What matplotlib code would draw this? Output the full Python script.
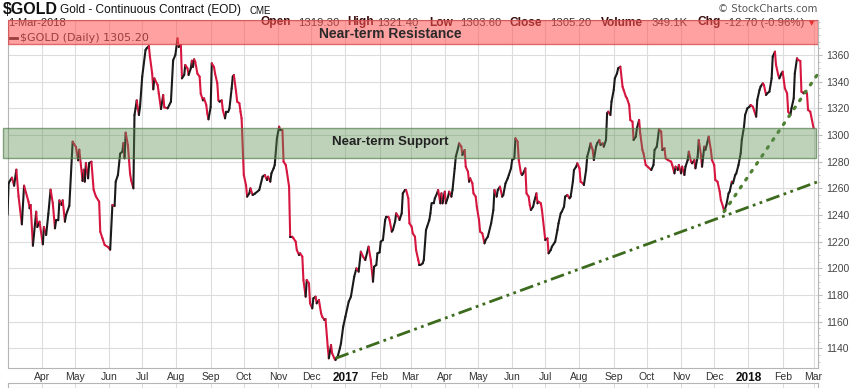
import numpy as np
import pandas as pd
import matplotlib
matplotlib.use("Agg")
import matplotlib.pyplot as plt
from matplotlib.collections import LineCollection
from matplotlib.patches import Rectangle
import matplotlib.transforms as mtransforms

plt.rcParams['font.family'] = ['Liberation Sans', 'DejaVu Sans']

# daily closes (vertices of the price line)
days_2016 = ['03-01', '03-02', '03-05', '03-07', '03-09', '03-11', '03-14', '03-16', '03-20', '03-21',
             '03-22', '03-24', '03-27', '03-28', '03-30', '04-02', '04-03', '04-05', '04-07', '04-09',
             '04-11', '04-13', '04-14', '04-16', '04-17', '04-19', '04-20', '04-22', '04-23', '04-26',
             '04-29', '05-02', '05-04', '05-05', '05-08', '05-09', '05-10', '05-11', '05-13', '05-14',
             '05-16', '05-18', '05-20', '05-23', '05-24', '05-26', '05-28', '05-31', '06-02', '06-04',
             '06-06', '06-07', '06-09', '06-11', '06-13', '06-14', '06-15', '06-16', '06-18', '06-20',
             '06-21', '06-23', '06-24', '06-25', '06-26', '06-28', '06-29', '07-01', '07-04', '07-05',
             '07-07', '07-08', '07-10', '07-11', '07-12', '07-15', '07-16', '07-18', '07-20', '07-21',
             '07-24', '07-27', '07-29', '07-31', '08-02', '08-03', '08-05', '08-06', '08-08', '08-09',
             '08-11', '08-12', '08-14', '08-15', '08-16', '08-17', '08-18', '08-20', '08-22', '08-23',
             '08-25', '08-26', '08-28', '08-29', '08-30', '09-01', '09-02', '09-04', '09-05', '09-07',
             '09-08', '09-09', '09-11', '09-12', '09-14', '09-15', '09-17', '09-18', '09-20', '09-21',
             '09-22', '09-24', '09-25', '09-27', '09-28', '09-29', '10-01', '10-03', '10-04', '10-06',
             '10-07', '10-09', '10-11', '10-15', '10-18', '10-20', '10-22', '10-23', '10-25', '10-26',
             '10-28', '10-29', '10-31', '11-02', '11-03', '11-05', '11-06', '11-08', '11-09', '11-11',
             '11-12', '11-14', '11-15', '11-17', '11-18', '11-20', '11-21', '11-23', '11-24', '11-26',
             '11-27', '11-29', '11-30', '12-02', '12-03', '12-05', '12-06', '12-08', '12-10', '12-11',
             '12-13', '12-14', '12-16', '12-17', '12-19', '12-20', '12-22', '12-23', '12-25', '12-27',
             '12-28', '12-30']
close_2016 = [1240, 1264, 1268, 1262, 1274, 1254, 1233, 1262, 1250, 1245,
              1247.5, 1217, 1242.5, 1231, 1235, 1218, 1231, 1225, 1241, 1259,
              1249, 1230, 1236, 1236, 1251, 1247.5, 1251, 1235, 1240, 1247,
              1295, 1291, 1281, 1289, 1265.5, 1274, 1265, 1279, 1267.5, 1279,
              1280, 1259, 1254, 1250, 1227.5, 1222.5, 1217.5, 1216, 1214, 1247.5,
              1246.75, 1265, 1270, 1286, 1287.5, 1294, 1282.5, 1301.75, 1292.5, 1271,
              1266, 1260, 1315, 1320, 1326, 1315, 1321, 1343.75, 1363.75, 1365,
              1366.75, 1358.75, 1346.25, 1334.25, 1342.5, 1337.5, 1331.25, 1319.5, 1330, 1320.75,
              1320, 1325, 1356, 1360, 1372.5, 1366, 1367.5, 1342.5, 1345, 1352.5,
              1350, 1345, 1350, 1355.75, 1351, 1356.75, 1355, 1346, 1343.75, 1331,
              1326, 1327.5, 1322.5, 1316, 1311.75, 1321, 1353.75, 1351, 1346, 1338.75,
              1326, 1325, 1326, 1318.75, 1312.5, 1317.5, 1317.5, 1320, 1335, 1343.75,
              1345, 1332.5, 1325, 1323.75, 1317.5, 1312.5, 1270, 1262.5, 1253.75, 1256.25,
              1260, 1255, 1256, 1258.75, 1268.75, 1270, 1266.25, 1268.75, 1265, 1271.25,
              1275, 1277.5, 1297.5, 1306.25, 1303.75, 1303.75, 1280, 1277.5, 1272.5, 1261.25,
              1223.75, 1223.75, 1222.5, 1220, 1213.75, 1210, 1211.25, 1208.75, 1191.25, 1178.75,
              1191.25, 1188.75, 1173.75, 1170, 1177.5, 1178.75, 1173.75, 1176.25, 1166.25, 1163.75,
              1161.25, 1162, 1141.25, 1132.5, 1142.5, 1136.25, 1132.5, 1131.25, 1133.75, 1140,
              1143.75, 1156.25]

days_2017 = ['01-01', '01-04', '01-06', '01-09', '01-11', '01-13', '01-15', '01-17', '01-19', '01-22',
             '01-24', '01-26', '01-27', '01-29', '01-30', '02-01', '02-02', '02-04', '02-06', '02-07',
             '02-09', '02-10', '02-12', '02-13', '02-15', '02-16', '02-18', '02-19', '02-21', '02-22',
             '02-24', '02-25', '02-27', '02-28', '03-02', '03-03', '03-05', '03-06', '03-08', '03-09',
             '03-10', '03-12', '03-13', '03-15', '03-16', '03-18', '03-19', '03-20', '03-22', '03-23',
             '03-25', '03-26', '03-28', '03-29', '03-30', '04-01', '04-02', '04-04', '04-05', '04-07',
             '04-08', '04-10', '04-11', '04-13', '04-14', '04-16', '04-17', '04-19', '04-20', '04-22',
             '04-23', '04-24', '04-26', '04-27', '04-29', '04-30', '05-02', '05-03', '05-05', '05-07',
             '05-08', '05-10', '05-13', '05-15', '05-16', '05-18', '05-19', '05-21', '05-23', '05-24',
             '05-26', '05-28', '05-29', '05-31', '06-01', '06-03', '06-04', '06-06', '06-07', '06-09',
             '06-10', '06-11', '06-13', '06-14', '06-16', '06-17', '06-18', '06-20', '06-21', '06-23',
             '06-24', '06-25', '06-27', '06-28', '06-29', '07-01', '07-03', '07-04', '07-06', '07-07',
             '07-09', '07-10', '07-12', '07-13', '07-15', '07-16', '07-18', '07-19', '07-21', '07-23',
             '07-24', '07-26', '07-27', '07-29', '07-30', '08-01', '08-02', '08-04', '08-05', '08-07',
             '08-08', '08-10', '08-11', '08-13', '08-14', '08-16', '08-17', '08-19', '08-20', '08-22',
             '08-23', '08-25', '08-26', '08-27', '08-29', '08-30', '09-01', '09-02', '09-04', '09-05',
             '09-07', '09-09', '09-10', '09-12', '09-13', '09-15', '09-16', '09-18', '09-19', '09-21',
             '09-22', '09-24', '09-25', '09-27', '09-28', '09-30', '10-02', '10-05', '10-07', '10-08',
             '10-10', '10-11', '10-12', '10-14', '10-15', '10-17', '10-18', '10-20', '10-23', '10-24',
             '10-26', '10-27', '10-29', '10-30', '11-01', '11-02', '11-04', '11-05', '11-07', '11-08',
             '11-10', '11-11', '11-13', '11-14', '11-16', '11-17', '11-19', '11-20', '11-22', '11-23',
             '11-25', '11-26', '11-28', '11-29', '12-01', '12-02', '12-04', '12-06', '12-07', '12-09',
             '12-10', '12-12', '12-14', '12-15', '12-17', '12-18', '12-20', '12-21', '12-23', '12-25',
             '12-26', '12-28', '12-29', '12-31']
close_2017 = [1163.75, 1175, 1178.75, 1193.75, 1200, 1197.5, 1212.5, 1208.75, 1206.25, 1216.25,
              1206.25, 1190, 1201.25, 1202.5, 1211.25, 1212, 1220, 1221.25, 1236.25, 1238.75,
              1238.75, 1236.25, 1227.5, 1228.75, 1235, 1241.25, 1238.75, 1236.25, 1241.25, 1256.25,
              1258.75, 1258.75, 1252.5, 1233.75, 1231.25, 1226.25, 1223.75, 1213.75, 1206.25, 1202.5,
              1202.5, 1203.75, 1206.25, 1228.75, 1231.25, 1236.25, 1241.25, 1248.75, 1248.75, 1252.5,
              1256.25, 1258.75, 1248.75, 1256.25, 1248.75, 1257.5, 1248.75, 1253.75, 1257.5, 1253.75,
              1258.75, 1275, 1283.75, 1290, 1293.75, 1291.25, 1285, 1288.75, 1276.25, 1272.5,
              1265, 1267.5, 1263.75, 1256.25, 1253.75, 1246.25, 1236.25, 1227.5, 1226.25, 1218.75,
              1221.25, 1223.75, 1233.75, 1243.75, 1258.75, 1253.75, 1258.75, 1261.25, 1253.75, 1255,
              1263.75, 1267.5, 1270, 1275, 1281.25, 1282.5, 1297.5, 1295, 1281.25, 1271.25,
              1270, 1271.25, 1275, 1256.25, 1253.75, 1247.5, 1243.75, 1246.25, 1250, 1256.25,
              1248.75, 1250, 1248.75, 1243.75, 1236.25, 1221.25, 1222.5, 1211.25, 1213.75, 1216.25,
              1218.75, 1220, 1228.75, 1233.75, 1241.25, 1242.5, 1246.25, 1253.75, 1255, 1252.5,
              1253.75, 1265, 1273.75, 1276.25, 1278.75, 1275, 1265, 1263.75, 1262.5, 1273.75,
              1283.75, 1290, 1293.75, 1288.75, 1281.25, 1291.25, 1293.75, 1296.25, 1292.5, 1293.75,
              1291.25, 1296.25, 1316.25, 1317.5, 1315, 1325, 1333.75, 1342.5, 1346.25, 1350,
              1351.25, 1336.25, 1333.75, 1328.75, 1327.5, 1322.5, 1311.25, 1310, 1296.25, 1298.75,
              1305, 1311.25, 1301.25, 1288.75, 1286.25, 1277.5, 1276, 1273.75, 1277.5, 1288.75,
              1291.25, 1297.5, 1304.25, 1302.5, 1288.75, 1290, 1282.5, 1281.25, 1280, 1277.5,
              1271.25, 1276.25, 1273.75, 1277.5, 1271.25, 1276.25, 1270, 1276.25, 1281.25, 1287.5,
              1280, 1278.75, 1281.25, 1275, 1283.75, 1296.25, 1285, 1276.25, 1291.25, 1288.75,
              1295, 1298.75, 1288.75, 1281.25, 1277.5, 1266.25, 1265, 1257.5, 1251.25, 1246.25,
              1242.5, 1247.5, 1256.25, 1257.5, 1265, 1263.75, 1270, 1271.25, 1277.5, 1286.25,
              1296.25, 1306.25, 1315, 1320]

days_2018 = ['01-02', '01-03', '01-05', '01-06', '01-08', '01-09', '01-11', '01-12', '01-14', '01-15',
             '01-17', '01-18', '01-20', '01-22', '01-23', '01-25', '01-26', '01-28', '01-29', '01-31',
             '02-01', '02-03', '02-05', '02-06', '02-08', '02-09', '02-11', '02-12', '02-14', '02-15',
             '02-17', '02-18', '02-20', '02-21', '02-23', '02-24', '02-26', '03-01']
close_2018 = [1321.25, 1322.5, 1321.25, 1318.75, 1313.75, 1326.25, 1333.75, 1336.25, 1338.75, 1337.5,
              1330, 1331.25, 1332.5, 1342.5, 1358.75, 1362.5, 1352.5, 1345, 1342.5, 1346.25,
              1347.5, 1335, 1331.25, 1317.5, 1315, 1320, 1327.5, 1346.25, 1357.5, 1356.25,
              1355.5, 1332.5, 1331.25, 1332.5, 1331.25, 1318.75, 1317.5, 1305.2]

# drawn annotations
support_band = (1283, 1305)
resistance_band = (1368, 1386.25)
long_trend = (['2016-12-23', '2018-03-05'], [1132.5, 1265])
short_trend = (['2017-12-10', '2018-03-05'], [1242.5, 1346])

month_ticks = pd.date_range('2016-04-01', '2018-03-01', freq='MS')
month_labels = [d.strftime('%Y') if d.month == 1 else d.strftime('%b') for d in month_ticks]
price_ticks = list(range(1140, 1361, 20))

dates = pd.to_datetime(['2016-' + d for d in days_2016] +
                       ['2017-' + d for d in days_2017] +
                       ['2018-' + d for d in days_2018])
close = np.array(close_2016 + close_2017 + close_2018)

W, H = 850, 388
def fig_xy(x, y):
    return x / W, 1 - y / H

fig = plt.figure(figsize=(8.5, 3.88), dpi=100)
left, right, top, bottom = 7.5, 818, 20, 368
ax = fig.add_axes([left / W, 1 - bottom / H, (right - left) / W, (bottom - top) / H])

x0, x1 = pd.Timestamp('2016-03-01'), pd.Timestamp('2018-03-05')
ax.set_xlim(x0, x1)
ax.set_ylim(1125.25, 1386.25)

# price line: black on up days, red on down days
xn = np.asarray(ax.convert_xunits(dates), dtype=float)
pts = np.column_stack([xn, close])
segs = np.stack([pts[:-1], pts[1:]], axis=1)
cols = np.where(np.diff(close) < 0, '#d6163f', '#1a1a1a')
lc = LineCollection(segs, colors=cols, linewidths=1.5, capstyle='round',
                    joinstyle='round', zorder=3)
ax.add_collection(lc)

# trend lines
ax.plot(pd.to_datetime(long_trend[0]), long_trend[1], color='#3d6b1e', lw=2,
        linestyle=(0, (5, 1.6, 1, 1.6, 1, 1.6)), zorder=4)
ax.plot(pd.to_datetime(short_trend[0]), short_trend[1], color='#4e7f32', lw=2.3,
        linestyle=(0, (0.6, 2.4)), dash_capstyle='round', zorder=4)

# support band (reaches a bit left of the frame)
blend = mtransforms.blended_transform_factory(ax.transAxes, ax.transData)
ax.add_patch(Rectangle((-0.006, support_band[0]), 1.004, support_band[1] - support_band[0],
                       transform=blend, clip_on=False, facecolor=(0.37, 0.56, 0.33, 0.4),
                       edgecolor=(0.33, 0.5, 0.3, 0.7), lw=1, zorder=5))
ax.text(0.472, 1294.5, 'Near-term Support', transform=blend, ha='center', va='center',
        fontsize=9.5, fontweight='bold', color='#222222', zorder=6)

# header info drawn inside the chart (under the red band)
ax.text(*fig_xy(8, 23), '1-Mar-2018', transform=fig.transFigure, fontsize=8,
        va='center', color='#222222', zorder=4)
header = [(260.7, 'Open', True), (297.7, '1319.30', False), (347.3, 'High', True),
          (377.3, '1321.40', False), (429, 'Low', True), (460, '1303.60', False),
          (510, 'Close', True), (550, '1305.20', False), (600.7, 'Volume', True),
          (651.7, '349.1K', False), (697.7, 'Chg', True), (725, '-12.70 (-0.96%)', False)]
for hx, txt, bold in header:
    ax.text(*fig_xy(hx, 22.5), txt, transform=fig.transFigure, va='center',
            fontsize=8.6 if bold else 8.2, fontweight='bold' if bold else 'normal',
            color='#3a0a0a' if bold else '#333333', zorder=4)
ax.text(*fig_xy(812, 23), '▼', transform=fig.transFigure, va='center', ha='center',
        fontsize=5, color='#cc0000', family='DejaVu Sans', zorder=4)
ax.plot([10 / W, 17 / W], [1 - 38 / H] * 2, transform=fig.transFigure, color='#222222',
        lw=2, zorder=4, clip_on=False)
ax.text(*fig_xy(20.5, 38), '$GOLD (Daily) 1305.20', transform=fig.transFigure,
        va='center', fontsize=8, family='DejaVu Sans', color='#222222', zorder=4)

# resistance band
ax.axhspan(*resistance_band, facecolor=(1.0, 0.33, 0.33, 0.55),
           edgecolor=(0.85, 0.3, 0.3, 0.8), lw=1, zorder=5)
ax.text(*fig_xy(390, 34), 'Near-term Resistance', transform=fig.transFigure,
        ha='center', va='center', fontsize=10, fontweight='bold', color='#2a2a2a', zorder=6)

# axes styling
ax.set_xticks(month_ticks, month_labels)
for lab in ax.get_xticklabels():
    if lab.get_text().isdigit():
        lab.set_fontweight('bold')
        lab.set_fontsize(8.5)
        lab.set_color('#111111')
    else:
        lab.set_fontsize(7.5)
        lab.set_color('#333333')
ax.tick_params(axis='x', length=0, pad=3)
ax.yaxis.tick_right()
ax.set_yticks(price_ticks)
ax.set_yticks(np.arange(1130, 1386, 5), minor=True)
ax.tick_params(axis='y', which='major', length=3, pad=3, labelsize=7.5,
               labelcolor='#444444', color='#bbbbbb')
ax.tick_params(axis='y', which='minor', length=1.5, color='#bbbbbb')
ax.grid(True, which='major', color='#dcdcdc', lw=0.8, zorder=0)
ax.set_axisbelow(True)
for sp in ax.spines.values():
    sp.set_color('#b5b5b5')
    sp.set_linewidth(0.8)

# top of the next (cut off) panel
ax2 = fig.add_axes([left / W, 0, (right - left) / W, 5 / H])
ax2.set_xlim(x0, x1)
ax2.set_xticks(month_ticks)
ax2.set_yticks([])
ax2.tick_params(axis='x', length=0, labelbottom=False)
ax2.grid(True, axis='x', color='#dcdcdc', lw=0.8)
for sp in ax2.spines.values():
    sp.set_color('#b5b5b5')
    sp.set_linewidth(0.8)

# title line above the chart
fig.text(*fig_xy(3, 10), '$GOLD', fontsize=11.5, fontweight='bold', va='center', color='#111111')
fig.text(*fig_xy(60, 10.5), 'Gold - Continuous Contract (EOD)', fontsize=8.6, va='center',
         color='#111111')
fig.text(*fig_xy(249, 11), 'CME', fontsize=7, va='center', color='#111111')
fig.text(*fig_xy(817.7, 8.5), '© StockCharts.com', fontsize=7.3, va='center', ha='right',
         family='DejaVu Sans', color='#555555')

fig.savefig('out.png', dpi=100)
